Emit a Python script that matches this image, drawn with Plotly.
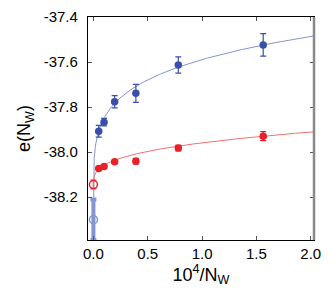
import numpy as np
import plotly.graph_objects as go

# data: x = 10^4/N_W
x_pts = [0.0488, 0.0977, 0.1953, 0.3906, 0.78125, 1.5625]
blue_y = [-37.907, -37.867, -37.776, -37.739, -37.613, -37.524]
blue_err = [0.026, 0.017, 0.027, 0.040, 0.036, 0.050]
red_y = [-38.073, -38.064, -38.043, -38.040, -37.982, -37.929]
red_err = [0.006, 0.006, 0.006, 0.012, 0.012, 0.020]

# extrapolated values at 1/N_W -> 0
x_ext = [0.0]
blue_ext = [-38.300]
blue_ext_err = [0.090]
red_ext = [-38.144]
red_ext_err = [0.020]

# fit parameters e = a + b * x^c
blue_fit = dict(a=-38.300, b=0.711, c=0.195)
red_fit = dict(a=-38.144, b=0.1855, c=0.33)

BLUE = "#3a4fa8"
BLUE_L = "#8494d0"
RED = "#e8202a"
RED_L = "#f27070"

xf = np.concatenate([np.linspace(0, 0.01, 200), np.linspace(0.01, 2.05, 300)])

fig = go.Figure()
for p, col in [(blue_fit, BLUE_L), (red_fit, RED_L)]:
    fig.add_trace(go.Scatter(x=xf, y=p["a"] + p["b"] * xf ** p["c"], mode="lines",
                             line=dict(color=col, width=1), hoverinfo="skip"))

fig.add_trace(go.Scatter(x=x_ext, y=blue_ext, mode="markers",
                         marker=dict(symbol="circle-open", size=8, color=BLUE_L, line=dict(width=1.5)),
                         error_y=dict(type="data", array=blue_ext_err, color=BLUE_L, thickness=4, width=3)))
fig.add_trace(go.Scatter(x=x_ext, y=red_ext, mode="markers",
                         marker=dict(symbol="circle-open", size=8, color=RED, line=dict(width=1.5)),
                         error_y=dict(type="data", array=red_ext_err, color=RED_L, thickness=1.5, width=3)))
fig.add_trace(go.Scatter(x=x_pts, y=blue_y, mode="markers",
                         marker=dict(size=7.5, color=BLUE),
                         error_y=dict(type="data", array=blue_err, color=BLUE, thickness=1.2, width=3)))
fig.add_trace(go.Scatter(x=x_pts, y=red_y, mode="markers",
                         marker=dict(size=7.5, color=RED),
                         error_y=dict(type="data", array=red_err, color=RED, thickness=1.2, width=3)))

font = dict(family="Liberation Sans, Arial, sans-serif", size=15, color="black")
fig.update_layout(
    width=329, height=292, showlegend=False,
    margin=dict(l=88, r=12, t=8, b=52),
    plot_bgcolor="white", paper_bgcolor="white", font=font,
    xaxis=dict(range=[-0.05, 2.03], tickvals=[0, 0.5, 1.0, 1.5, 2.0],
               ticktext=["0.0", "0.5", "1.0", "1.5", "2.0"],
               showgrid=False, zeroline=False, showline=True, linecolor="black", linewidth=1.2,
               mirror="ticks", ticks="inside", ticklen=4, tickcolor="#555",
               title=dict(text="10<sup>4</sup>/N<sub>W</sub>", standoff=6)),
    yaxis=dict(range=[-38.39, -37.4], tickvals=[-37.4, -37.6, -37.8, -38.0, -38.2],
               ticktext=["-37.4", "-37.6", "-37.8", "-38.0", "-38.2"],
               showgrid=False, zeroline=False, showline=True, linecolor="black", linewidth=1.2,
               mirror="ticks", ticks="inside", ticklen=4, tickcolor="#555",
               ticklabelstandoff=6,
               title=dict(text="e(N<sub>W</sub>)", standoff=8)),
)
fig.add_shape(type="line", xref="paper", yref="paper", x0=1, x1=1, y0=0, y1=1,
              line=dict(color="#888", width=2.5))
fig.write_html("out.html", config={"displayModeBar": False},
               post_script="document.body.style.margin='0';")
